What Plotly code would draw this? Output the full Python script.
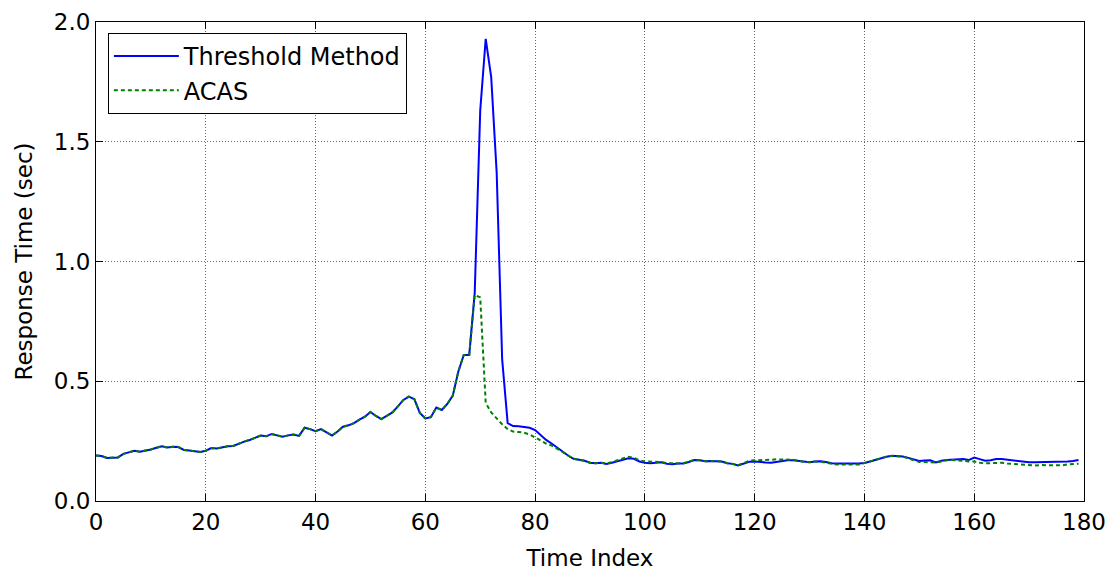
import plotly.graph_objects as go

time_index = list(range(180))

threshold_method = [
    0.190, 0.188, 0.180, 0.180, 0.182, 0.197, 0.203, 0.210, 0.206, 0.210,
    0.215, 0.222, 0.228, 0.223, 0.226, 0.225, 0.213, 0.211, 0.209, 0.205,
    0.210, 0.221, 0.219, 0.224, 0.229, 0.230, 0.240, 0.248, 0.255, 0.265,
    0.273, 0.270, 0.280, 0.274, 0.268, 0.274, 0.278, 0.272, 0.306, 0.300,
    0.292, 0.300, 0.287, 0.273, 0.290, 0.310, 0.316, 0.325, 0.340, 0.352,
    0.372, 0.355, 0.342, 0.356, 0.370, 0.395, 0.422, 0.436, 0.425, 0.368,
    0.345, 0.350, 0.390, 0.380, 0.405, 0.440, 0.540, 0.610, 0.610, 0.870,
    1.630, 1.930, 1.770, 1.370, 0.590, 0.325, 0.313, 0.312, 0.310, 0.306,
    0.296, 0.275, 0.255, 0.240, 0.222, 0.205, 0.190, 0.176, 0.172, 0.168,
    0.160, 0.158, 0.160, 0.155, 0.160, 0.167, 0.172, 0.178, 0.176, 0.165,
    0.160, 0.158, 0.160, 0.162, 0.156, 0.154, 0.157, 0.157, 0.163, 0.171,
    0.170, 0.166, 0.167, 0.167, 0.165, 0.158, 0.155, 0.148, 0.155, 0.164,
    0.165, 0.162, 0.161, 0.160, 0.163, 0.168, 0.170, 0.170, 0.168, 0.163,
    0.162, 0.165, 0.166, 0.163, 0.158, 0.157, 0.156, 0.157, 0.157, 0.157,
    0.159, 0.165, 0.172, 0.179, 0.185, 0.189, 0.189, 0.186, 0.180, 0.173,
    0.167, 0.169, 0.170, 0.161, 0.168, 0.171, 0.172, 0.175, 0.175, 0.171,
    0.181, 0.175, 0.168, 0.170, 0.175, 0.175, 0.172, 0.168, 0.166, 0.164,
    0.162, 0.162, 0.162, 0.162, 0.162, 0.162, 0.163, 0.165, 0.167, 0.171,
]

acas = [
    0.190, 0.188, 0.180, 0.180, 0.182, 0.197, 0.203, 0.210, 0.206, 0.210,
    0.215, 0.222, 0.228, 0.223, 0.226, 0.225, 0.213, 0.211, 0.209, 0.205,
    0.210, 0.221, 0.219, 0.224, 0.229, 0.230, 0.240, 0.248, 0.255, 0.265,
    0.273, 0.270, 0.280, 0.274, 0.268, 0.274, 0.278, 0.272, 0.306, 0.300,
    0.292, 0.300, 0.287, 0.273, 0.290, 0.310, 0.316, 0.325, 0.340, 0.352,
    0.372, 0.355, 0.342, 0.356, 0.370, 0.395, 0.422, 0.436, 0.425, 0.368,
    0.345, 0.350, 0.390, 0.380, 0.405, 0.440, 0.540, 0.610, 0.610, 0.860,
    0.850, 0.410, 0.370, 0.345, 0.320, 0.300, 0.290, 0.288, 0.285, 0.278,
    0.265, 0.255, 0.240, 0.232, 0.220, 0.205, 0.190, 0.176, 0.172, 0.168,
    0.160, 0.158, 0.160, 0.157, 0.162, 0.170, 0.178, 0.185, 0.180, 0.170,
    0.165, 0.165, 0.163, 0.163, 0.158, 0.156, 0.157, 0.158, 0.163, 0.171,
    0.170, 0.166, 0.167, 0.167, 0.165, 0.158, 0.155, 0.150, 0.158, 0.168,
    0.170, 0.170, 0.171, 0.172, 0.174, 0.174, 0.173, 0.172, 0.168, 0.163,
    0.162, 0.165, 0.164, 0.160, 0.155, 0.152, 0.152, 0.151, 0.150, 0.152,
    0.158, 0.165, 0.172, 0.179, 0.185, 0.188, 0.188, 0.185, 0.178, 0.170,
    0.163, 0.163, 0.163, 0.160, 0.165, 0.170, 0.171, 0.171, 0.168, 0.165,
    0.165, 0.160, 0.157, 0.158, 0.160, 0.160, 0.157, 0.155, 0.153, 0.150,
    0.148, 0.148, 0.150, 0.150, 0.150, 0.150, 0.149, 0.153, 0.156, 0.156,
]

x_ticks = [0, 20, 40, 60, 80, 100, 120, 140, 160, 180]
y_ticks = [0.0, 0.5, 1.0, 1.5, 2.0]

fig = go.Figure()
fig.add_trace(go.Scatter(
    x=time_index, y=threshold_method, mode="lines", name="Threshold Method",
    line=dict(color="#0000ff", width=2),
))
fig.add_trace(go.Scatter(
    x=time_index, y=acas, mode="lines", name="ACAS",
    line=dict(color="#008000", width=2, dash="4px,3px"),
))

axis_common = dict(
    showline=True, linecolor="black", linewidth=1, mirror="ticks",
    ticks="inside", ticklen=7, tickcolor="black",
    showgrid=True, gridcolor="rgba(0,0,0,0.6)", gridwidth=1, griddash="1px,2px",
    zeroline=False, automargin=False,
    tickfont=dict(family="DejaVu Sans", size=23, color="black"),
)

fig.update_xaxes(
    range=[0, 180], tickvals=x_ticks,
    title=dict(text="Time Index", font=dict(family="DejaVu Sans", size=23, color="black"), standoff=16),
    **axis_common,
)
fig.update_yaxes(
    range=[0, 2.0], tickvals=y_ticks, tickformat=".1f",
    title=dict(text="Response Time (sec)", font=dict(family="DejaVu Sans", size=23, color="black"), standoff=14),
    **axis_common,
)

fig.update_layout(
    width=1108, height=566,
    margin=dict(l=88, r=32, t=14, b=73),
    plot_bgcolor="white", paper_bgcolor="white",
    font=dict(family="DejaVu Sans", color="black"),
    legend=dict(
        x=0.012, y=0.977, xanchor="left", yanchor="top",
        bordercolor="black", borderwidth=1, bgcolor="white",
        font=dict(family="DejaVu Sans", size=24, color="black"),
        itemwidth=65, tracegroupgap=0,
    ),
    showlegend=True,
)

fig.write_html("out.html")
